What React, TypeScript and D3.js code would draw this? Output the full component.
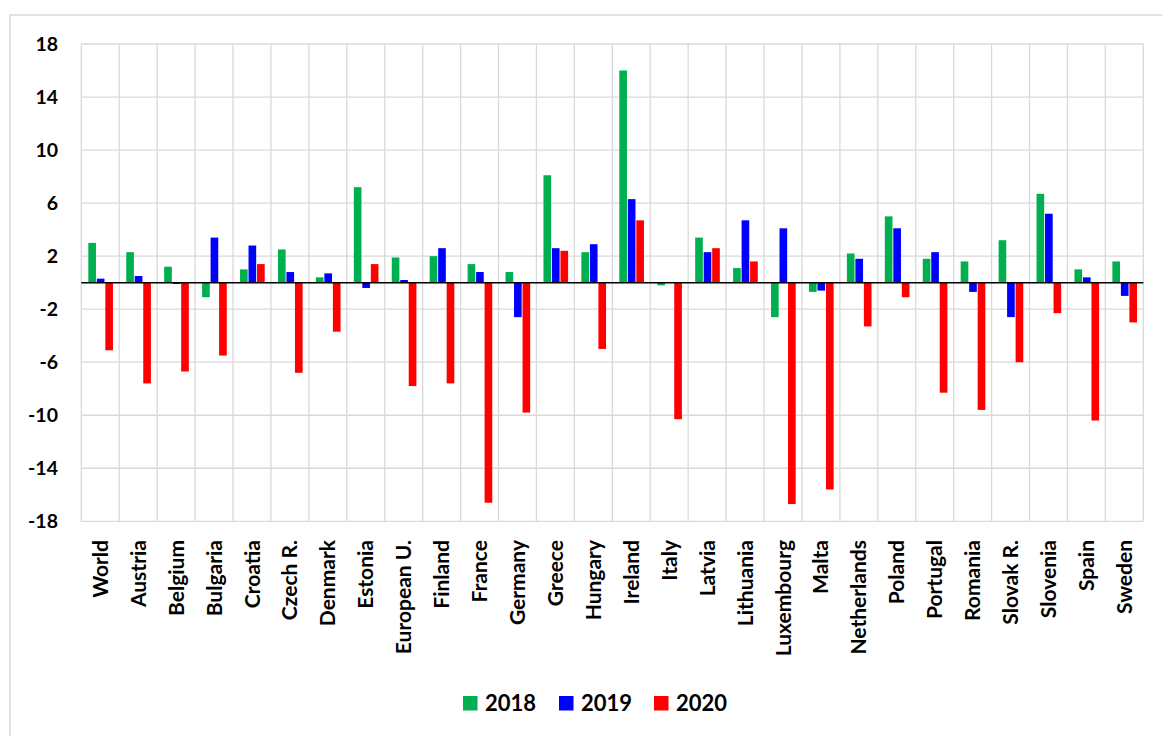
import React from "react";
import * as d3 from "d3";

// Annual change (%) by country, three years side by side
const countries = [
  "World", "Austria", "Belgium", "Bulgaria", "Croatia", "Czech R.", "Denmark",
  "Estonia", "European U.", "Finland", "France", "Germany", "Greece", "Hungary",
  "Ireland", "Italy", "Latvia", "Lithuania", "Luxembourg", "Malta", "Netherlands",
  "Poland", "Portugal", "Romania", "Slovak R.", "Slovenia", "Spain", "Sweden",
];

const years = ["2018", "2019", "2020"];

const values2018 = [
  3.0, 2.3, 1.2, -1.1, 1.0, 2.5, 0.4, 7.2, 1.9, 2.0, 1.4, 0.8, 8.1, 2.3,
  16.0, -0.2, 3.4, 1.1, -2.6, -0.7, 2.2, 5.0, 1.8, 1.6, 3.2, 6.7, 1.0, 1.6,
];
const values2019 = [
  0.3, 0.5, -0.1, 3.4, 2.8, 0.8, 0.7, -0.4, 0.2, 2.6, 0.8, -2.6, 2.6, 2.9,
  6.3, 0.05, 2.3, 4.7, 4.1, -0.6, 1.8, 4.1, 2.3, -0.7, -2.6, 5.2, 0.4, -1.0,
];
const values2020 = [
  -5.1, -7.6, -6.7, -5.5, 1.4, -6.8, -3.7, 1.4, -7.8, -7.6, -16.6, -9.8, 2.4, -5.0,
  4.7, -10.3, 2.6, 1.6, -16.7, -15.6, -3.3, -1.1, -8.3, -9.6, -6.0, -2.3, -10.4, -3.0,
];

const yTicks = [18, 14, 10, 6, 2, -2, -6, -10, -14, -18];

const seriesColors = ["#00B050", "#0000FF", "#FF0000"];
const seriesValues = [values2018, values2019, values2020];

const W = 1162;
const H = 736;
const plot = { left: 81.3, right: 1143.3, top: 44, bottom: 521.3 };
const FONT = "Lato, 'Open Sans', sans-serif";
const GRID = "#d9d9d9";

export default function App() {
  const x0 = d3
    .scaleBand<string>()
    .domain(countries)
    .range([plot.left, plot.right])
    .paddingInner(0)
    .paddingOuter(0);
  const bw = x0.bandwidth();
  const x1 = d3
    .scaleBand<string>()
    .domain(years)
    .range([bw * 0.185, bw * 0.835])
    .paddingInner(0.1)
    .paddingOuter(0);
  const y = d3.scaleLinear().domain([-18, 18]).range([plot.bottom, plot.top]);

  const legendItems = years.map((yr, i) => ({ yr, color: seriesColors[i] }));
  const legendX = [463, 559, 654];

  return (
    <svg
      width={W}
      height={H}
      style={{ position: "absolute", left: 0, top: 0, background: "#fff" }}
      fontFamily={FONT}
    >
      {/* chart frame */}
      <rect x={10} y={15} width={W} height={H} fill="#fff" stroke={GRID} strokeWidth={1.5} />

      {/* horizontal gridlines */}
      {yTicks.map((t) => (
        <line
          key={"h" + t}
          x1={plot.left}
          x2={plot.right}
          y1={y(t)}
          y2={y(t)}
          stroke={GRID}
          strokeWidth={1.3}
        />
      ))}
      {/* vertical gridlines at category boundaries */}
      {countries.map((c) => (
        <line
          key={"v" + c}
          x1={x0(c)!}
          x2={x0(c)!}
          y1={plot.top}
          y2={plot.bottom}
          stroke={GRID}
          strokeWidth={1.3}
        />
      ))}
      <line
        x1={plot.right}
        x2={plot.right}
        y1={plot.top}
        y2={plot.bottom}
        stroke={GRID}
        strokeWidth={1.3}
      />

      {/* bars */}
      {countries.map((c, ci) => (
        <g key={"g" + c} transform={`translate(${x0(c)},0)`}>
          {years.map((yr, si) => {
            const v = seriesValues[si][ci];
            const y0 = y(0);
            const yv = y(v);
            return (
              <rect
                key={yr}
                x={x1(yr)!}
                y={Math.min(y0, yv)}
                width={x1.bandwidth()}
                height={Math.abs(yv - y0)}
                fill={seriesColors[si]}
              />
            );
          })}
        </g>
      ))}

      {/* zero line */}
      <line
        x1={plot.left}
        x2={plot.right}
        y1={y(0)}
        y2={y(0)}
        stroke="#000"
        strokeWidth={1.5}
      />

      {/* y tick labels */}
      {yTicks.map((t) => (
        <text
          key={"yl" + t}
          x={58}
          y={y(t)}
          dy="0.36em"
          textAnchor="end"
          fontSize={19.5}
          fontWeight={700}
          fill="#000"
        >
          {t}
        </text>
      ))}

      {/* category labels */}
      {countries.map((c) => {
        const cx = x0(c)! + bw / 2;
        return (
          <text
            key={"xl" + c}
            transform={`translate(${cx},540) rotate(-90)`}
            dy="0.36em"
            textAnchor="end"
            fontSize={21}
            fontWeight={700}
            fill="#000"
          >
            {c}
          </text>
        );
      })}

      {/* legend */}
      {legendItems.map((d, i) => (
        <g key={"lg" + d.yr} transform={`translate(${legendX[i]},696)`}>
          <rect x={0} y={0} width={14.5} height={14.5} fill={d.color} />
          <text x={22} y={7.5} dy="0.36em" fontSize={22} fontWeight={700} fill="#000">
            {d.yr}
          </text>
        </g>
      ))}
    </svg>
  );
}
